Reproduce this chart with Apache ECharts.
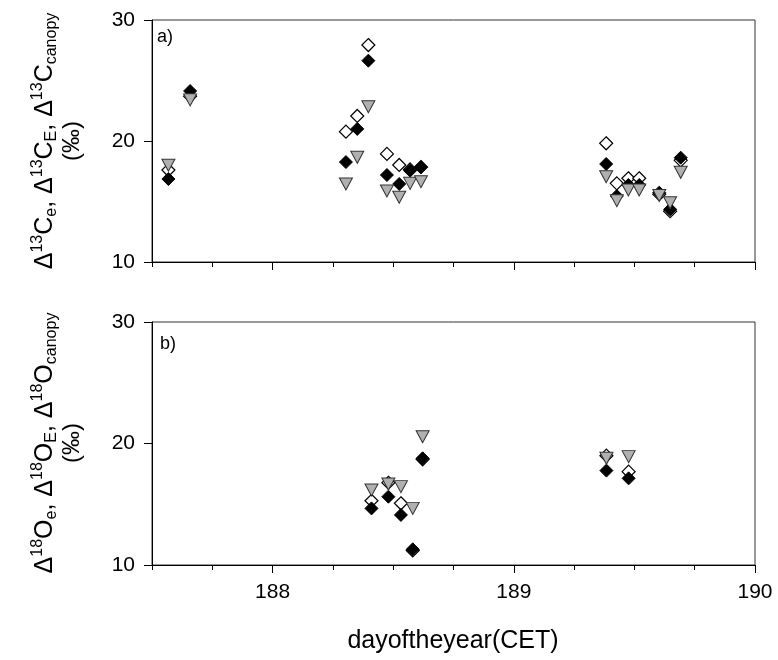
<!DOCTYPE html>
<html>
<head>
<meta charset="utf-8">
<script src="https://cdn.jsdelivr.net/npm/echarts@6/dist/echarts.min.js"></script>
<style>
html,body{margin:0;padding:0;background:#fff;}
#chart{width:778px;height:660px;}
</style>
</head>
<body>
<div id="chart"></div>
<script>
// ---- Panel a (13C) ----
var aDays     = [187.568, 187.658, 188.304, 188.351, 188.397, 188.474, 188.525, 188.570, 188.615, 189.383, 189.427, 189.475, 189.520, 189.603, 189.648, 189.692];
var aFilled   = [16.86, 24.13, 18.26, 21.00, 26.64, 17.19, 16.45, 17.55, 17.83, 18.10, 15.45, 16.36, 16.36, 15.73, 14.35, 18.62];
var aOpen     = [17.60, 23.70, 20.77, 22.07, 27.93, 18.93, 18.02, 17.65, 17.85, 19.81, 16.50, 16.92, 16.92, 15.60, 14.20, 18.40];
var aTriangle = [18.00, 23.40, 16.45, 18.65, 22.83, 15.87, 15.35, 16.50, 16.64, 17.05, 15.07, 15.95, 15.95, 15.50, 14.90, 17.41];
// ---- Panel b (18O) ----
var bDays     = [188.410, 188.480, 188.532, 188.581, 188.622, 189.384, 189.476];
var bFilled   = [14.66, 15.62, 14.12, 11.29, 18.78, 17.77, 17.13];
var bOpen     = [15.29, 16.77, 15.08, 11.20, 18.70, 19.00, 17.68];
var bTriangle = [16.17, 16.66, 16.45, 14.66, 20.56, 18.78, 18.92];
// ---- axes ----
var xMin = 187.5, xMax = 190;
var xMajorTicks = [188, 189, 190];
var xMinorTicks = [187.5, 187.75, 188, 188.25, 188.5, 188.75, 189, 189.25, 189.5, 189.75, 190];
var yTicks = [10, 20, 30];
var xTitle = 'dayoftheyear(CET)';

var FONT = '"Liberation Sans", Arial, sans-serif';
function pairs(xs, ys){ return xs.map(function(x,i){ return [x, ys[i]]; }); }

var grids = [
  {left:152, top:20, width:603, height:242, show:true, borderColor:'#333', borderWidth:1},
  {left:152, top:322, width:603, height:243, show:true, borderColor:'#333', borderWidth:1}
];

var xAxes = [], yAxes = [];
[0,1].forEach(function(g){
  xAxes.push({
    type:'value', gridIndex:g, position:'bottom', min:xMin, max:xMax, interval:0.25,
    axisLine:{show:true, onZero:false, lineStyle:{color:'#000', width:1}},
    axisTick:{show:true, inside:false, length:5, customValues:xMinorTicks, lineStyle:{color:'#000'}},
    axisLabel:{show:false},
    splitLine:{show:false}
  });
  xAxes.push({
    type:'value', gridIndex:g, position:'bottom', offset:0, min:xMin, max:xMax, interval:0.25,
    axisLine:{show:false, onZero:false},
    axisTick:{show:true, inside:false, length:8, customValues:xMajorTicks, lineStyle:{color:'#000'}},
    axisLabel:{show:g===1, customValues:xMajorTicks, fontFamily:FONT, fontSize:21, color:'#000', margin:17,
      formatter:function(v){ return (Math.abs(v-Math.round(v))<1e-6) ? String(Math.round(v)) : ''; }},
    splitLine:{show:false}
  });
  yAxes.push({
    type:'value', gridIndex:g, position:'left', min:10, max:30, interval:10,
    axisLine:{show:true, onZero:false, lineStyle:{color:'#000', width:1}},
    axisTick:{show:true, inside:false, length:8, lineStyle:{color:'#000'}},
    axisLabel:{fontFamily:FONT, fontSize:21, color:'#000', margin:17,
      formatter:function(v){ return yTicks.indexOf(v)>=0 ? String(v) : ''; }},
    splitLine:{show:false}
  });
});

var diamondOpen = {symbol:'diamond', symbolSize:13, itemStyle:{color:'#fff', borderColor:'#000', borderWidth:1.2, opacity:1}};
var diamondFilled = {symbol:'diamond', symbolSize:13, itemStyle:{color:'#000', borderColor:'#000', borderWidth:1, opacity:1}};
var triangle = {symbol:'triangle', symbolRotate:180, symbolSize:[13,12], itemStyle:{color:'#b0b0b0', borderColor:'#333', borderWidth:1, opacity:1}};

function mk(style, xi, yi, data){
  return Object.assign({type:'scatter', xAxisIndex:xi, yAxisIndex:yi, data:data, silent:true, animation:false}, style);
}

var series = [
  mk(diamondOpen, 0, 0, pairs(aDays, aOpen)),
  mk(diamondFilled, 0, 0, pairs(aDays, aFilled)),
  mk(triangle, 0, 0, pairs(aDays, aTriangle)),
  mk(diamondOpen, 2, 1, pairs(bDays, bOpen)),
  mk(diamondFilled, 2, 1, pairs(bDays, bFilled)),
  mk(triangle, 2, 1, pairs(bDays, bTriangle))
];

var rich = {
  m:{fontFamily:FONT, fontSize:25, color:'#000', lineHeight:30, verticalAlign:'middle'},
  sup:{fontFamily:FONT, fontSize:16, color:'#000', lineHeight:16, verticalAlign:'top'},
  sub:{fontFamily:FONT, fontSize:16, color:'#000', lineHeight:16, verticalAlign:'bottom'},
  p:{fontFamily:FONT, fontSize:24, color:'#000', lineHeight:24}
};
function ytitle(iso, el){
  return '{m|\u0394}{sup|'+iso+'}{m|'+el+'}{sub|e}{m|, \u0394}{sup|'+iso+'}{m|'+el+'}{sub|E}{m|, \u0394}{sup|'+iso+'}{m|'+el+'}{sub|canopy}\n{p|(\u2030)}';
}

var option = {
  backgroundColor:'#fff',
  animation:false,
  grid:grids,
  xAxis:xAxes,
  yAxis:yAxes,
  series:series,
  graphic:[
    {type:'text', x:157, y:28, style:{text:'a)', fontFamily:FONT, fontSize:18, fill:'#000'}},
    {type:'text', x:160, y:335, style:{text:'b)', fontFamily:FONT, fontSize:18, fill:'#000'}},
    {type:'text', x:453, y:641, style:{text:xTitle, fontFamily:FONT, fontSize:25, fill:'#000', align:'center', verticalAlign:'middle'}},
    {type:'text', x:57, y:141, rotation:Math.PI/2, style:{text:ytitle('13','C'), rich:rich, align:'center', verticalAlign:'middle'}},
    {type:'text', x:57, y:443, rotation:Math.PI/2, style:{text:ytitle('18','O'), rich:rich, align:'center', verticalAlign:'middle'}}
  ]
};
var chart = echarts.init(document.getElementById('chart'), null, {renderer:'canvas'});
chart.setOption(option);
</script>
</body>
</html>
